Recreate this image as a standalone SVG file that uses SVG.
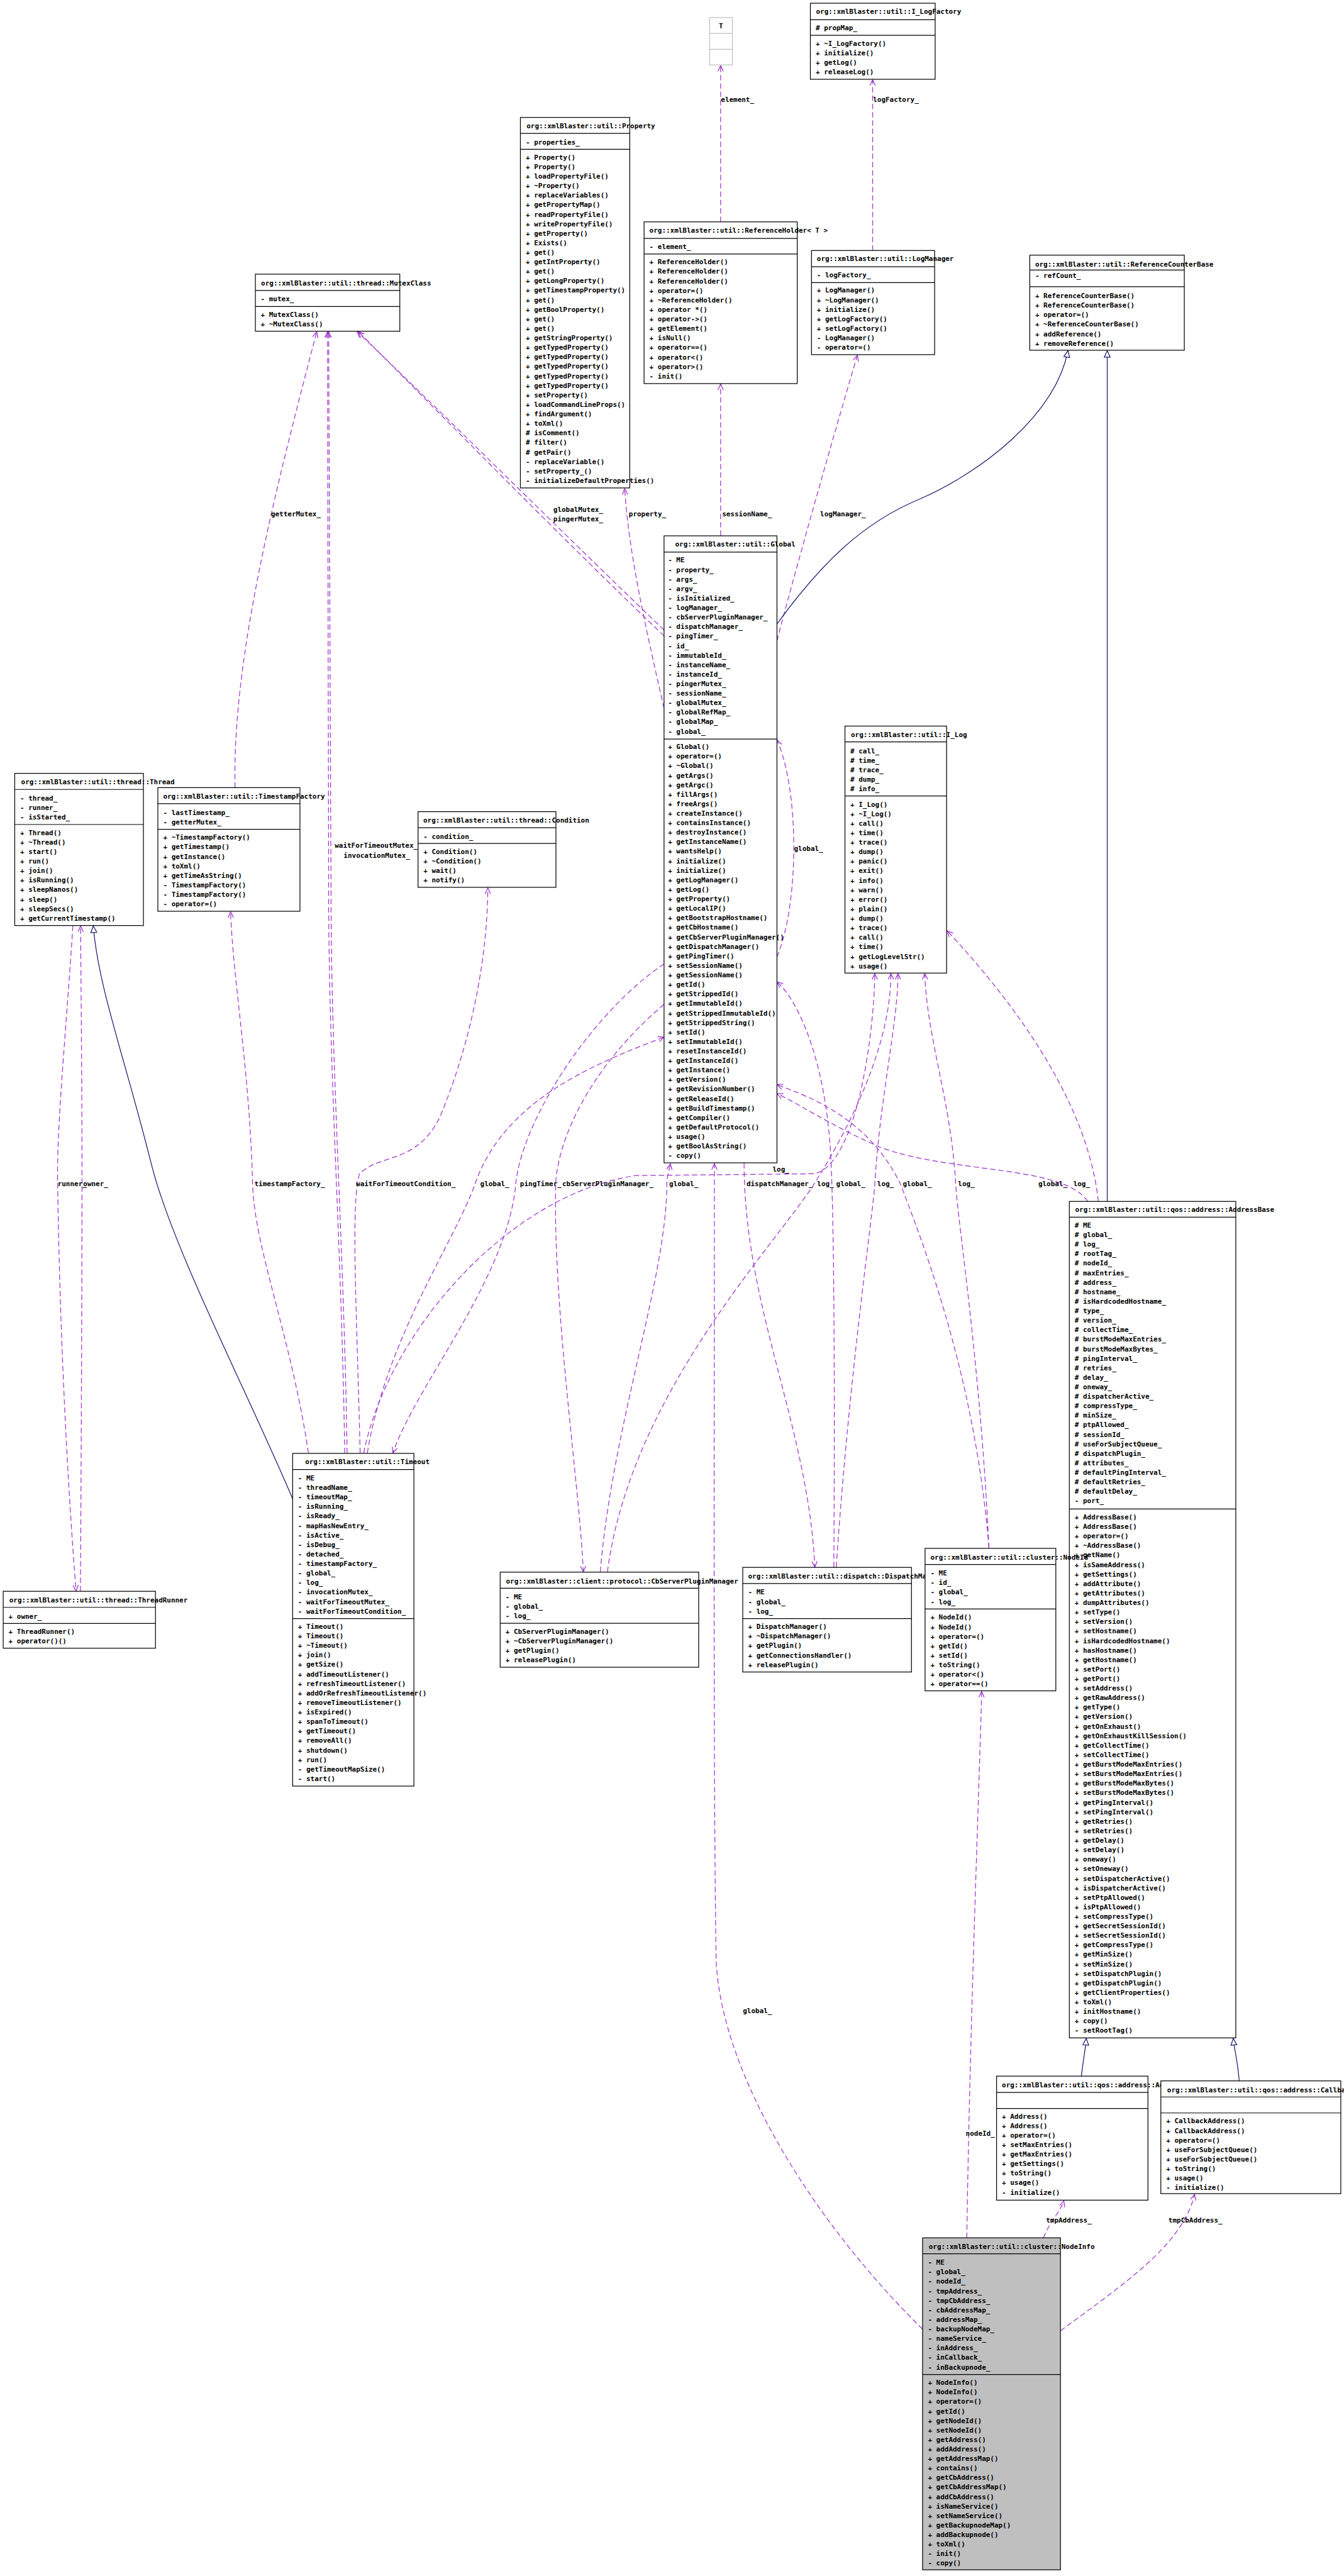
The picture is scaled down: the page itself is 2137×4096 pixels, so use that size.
<svg xmlns="http://www.w3.org/2000/svg" width="2137" height="4096" viewBox="0 0 2137 4096">
<defs>
<style>
.b{fill:#fff;stroke:#000;stroke-width:1.3}
.gr{fill:#bfbfbf;stroke:#000;stroke-width:1.3}
.s{fill:none;stroke:#000;stroke-width:1.3}
text{font-family:"DejaVu Sans Mono","Liberation Mono",monospace;font-size:11.6px;fill:#000;font-weight:bold}
.e{fill:none;stroke:#9a32cd;stroke-width:1.3;stroke-dasharray:9,5;marker-end:url(#v)}
.i{fill:none;stroke:#191970;stroke-width:1.3;marker-end:url(#t)}
.c{text-anchor:middle}
</style>
<marker id="v" viewBox="0 0 12 12" refX="11" refY="6" markerWidth="12" markerHeight="12" markerUnits="userSpaceOnUse" orient="auto"><path d="M1,1.5 L11,6 L1,10.5" fill="none" stroke="#9a32cd" stroke-width="1.3"/></marker>
<marker id="t" viewBox="0 0 13 12" refX="12" refY="6" markerWidth="13" markerHeight="12" markerUnits="userSpaceOnUse" orient="auto"><path d="M1,1 L12,6 L1,11 Z" fill="#fff" stroke="#191970" stroke-width="1.3"/></marker>
</defs>
<rect width="2137" height="4096" fill="#fff"/>
<g transform="scale(0.945)">
<g id="connectors">
<path class="e" d="M1212.5,373.3 L1212.5,110"/>
<path class="e" d="M1468.3,421.5 L1468.3,134"/>
<path class="e" d="M1212.5,901.6 L1212.5,646"/>
<path class="e" d="M1117.3,1192 C1085,1050 1058,930 1051,822"/>
<path class="e" d="M1117.3,1060 C950,900 760,710 601,558"/>
<path class="e" d="M1117.3,1070 C950,910 760,716 603,558"/>
<path class="e" d="M1307.3,1078 C1330,990 1400,740 1442.8,597.5"/>
<path class="e" d="M395.5,1325 C390,1100 470,800 533,558"/>
<path class="e" d="M580,2445 C575,2100 553,1800 553,1500 L551,558"/>
<path class="e" d="M584,2445 C579,2100 557,1800 557,1500 L553,558"/>
<path class="e" d="M519,2445 C490,2250 428,2100 425,1992 C420,1800 392,1650 388,1534"/>
<path class="e" d="M606,2445 C600,2200 590,2020 605,1975 C640,1940 700,1960 740,1880 C790,1760 820,1620 820.8,1494"/>
<path class="e" d="M618,2445 C650,2250 770,2080 800,1990 C850,1850 1000,1790 1117.3,1745"/>
<path class="e" d="M1117.3,1622 C1000,1700 880,1880 868,1990 C855,2150 700,2330 661,2445"/>
<path class="e" d="M1117.3,1690 C1010,1780 940,1900 935,1992 C930,2200 975,2500 981.5,2645"/>
<path class="e" d="M1010,2645 C1030,2400 1122,2150 1122,1992 C1122,1980 1126,1970 1128,1958"/>
<path class="e" d="M612,2445 C650,2250 850,2010 1070,1978 L1370,1975 C1440,1960 1470,1750 1472,1638"/>
<path class="e" d="M1022,2645 C1060,2350 1300,2100 1370,1992 C1440,1880 1499,1750 1499,1638"/>
<path class="e" d="M1252,1957 C1252,2200 1360,2400 1371,2637"/>
<path class="e" d="M1403,2637 C1405,2300 1403,2050 1398,1950 C1390,1780 1340,1680 1307.3,1652"/>
<path class="e" d="M1407,2637 C1430,2300 1468,2050 1472,1992 C1480,1850 1511,1720 1511,1638"/>
<path class="e" d="M1664,2605 C1640,2300 1540,2060 1515,1992 C1460,1880 1360,1845 1307.3,1825"/>
<path class="e" d="M1664,2605 C1650,2300 1612,2060 1608,1992 C1600,1850 1560,1750 1556,1638"/>
<path class="e" d="M1830,2021.5 C1790,1960 1600,1975 1480,1930 C1400,1895 1340,1855 1307.3,1840"/>
<path class="e" d="M1848,2021.5 C1830,1850 1700,1680 1593.5,1566"/>
<path class="e" d="M1307.3,1610 C1345,1520 1345,1330 1307.3,1245"/>
<path class="e" d="M122.7,1557.3 C110,1750 95,1900 97,1992 C100,2200 110,2450 128,2677"/>
<path class="e" d="M135.3,2677.5 C137,2400 138,2100 138,1992 C138,1800 136,1650 135.7,1558"/>
<path class="e" d="M1552.3,3919 C1380,3750 1215,3500 1205,3300 C1200,3000 1202,2400 1202,1958"/>
<path class="e" d="M1626.7,3765.4 C1632,3400 1648,3000 1651.7,2846"/>
<path class="e" d="M1755.7,3765.4 C1765,3740 1785,3720 1790,3703"/>
<path class="e" d="M1784.3,3922 C1880,3850 1990,3780 2010,3692"/>
<path class="i" d="M1307.3,1050 C1380,950 1450,880 1547,840 C1650,795 1775,700 1797,590"/>
<path class="i" d="M1863,2021.5 L1863,590"/>
<path class="i" d="M492.4,2522 C420,2350 290,2100 255,1960 C210,1780 165,1660 157,1558"/>
<path class="i" d="M1819.5,3493.3 C1822,3470 1826,3450 1827.8,3430"/>
<path class="i" d="M2085,3501.3 C2083,3470 2077,3450 2075,3430"/>
<text x="1213" y="171">element_</text>
<text x="1469" y="171">logFactory_</text>
<text x="456" y="869">getterMutex_</text>
<text x="931" y="861">globalMutex_</text>
<text x="931" y="877">pingerMutex_</text>
<text x="1058" y="869">property_</text>
<text x="1215" y="869">sessionName_</text>
<text x="1380" y="869">logManager_</text>
<text x="1336" y="1432">global_</text>
<text class="c" x="633" y="1427">waitForTimeoutMutex_</text>
<text class="c" x="634" y="1443">invocationMutex_</text>
<text x="97" y="1996">runner_</text>
<text x="140" y="1996">owner_</text>
<text x="428" y="1996">timestampFactory_</text>
<text x="599" y="1996">waitForTimeoutCondition_</text>
<text x="808" y="1996">global_</text>
<text x="875" y="1996">pingTimer_</text>
<text x="946" y="1996">cbServerPluginManager_</text>
<text x="1126" y="1996">global_</text>
<text x="1256" y="1996">dispatchManager_</text>
<text x="1300" y="1971">log_</text>
<text x="1375" y="1996">log_</text>
<text x="1407" y="1996">global_</text>
<text x="1476" y="1996">log_</text>
<text x="1519" y="1996">global_</text>
<text x="1612" y="1996">log_</text>
<text x="1747" y="1996">global_</text>
<text x="1806" y="1996">log_</text>
<text x="1250" y="3387">global_</text>
<text x="1625" y="3594">nodeId_</text>
<text x="1760" y="3740">tmpAddress_</text>
<text x="1966" y="3740">tmpCbAddress_</text>
</g>
<g id="n_property">
<rect class="b" x="875.6" y="197.6" width="184" height="623.4"/>
<path class="s" d="M875.6,224.4H1059.6M875.6,251.2H1059.6"/>
<text x="886" y="215.6">org::xmlBlaster::util::Property</text>
<text x="884.6" y="242.9">- properties_</text>
<text x="884.6" y="268.6"><tspan x="884.6" y="268.6">+ Property()</tspan><tspan x="884.6" dy="16">+ Property()</tspan><tspan x="884.6" dy="16">+ loadPropertyFile()</tspan><tspan x="884.6" dy="16">+ ~Property()</tspan><tspan x="884.6" dy="16">+ replaceVariables()</tspan><tspan x="884.6" dy="16">+ getPropertyMap()</tspan><tspan x="884.6" dy="16">+ readPropertyFile()</tspan><tspan x="884.6" dy="16">+ writePropertyFile()</tspan><tspan x="884.6" dy="16">+ getProperty()</tspan><tspan x="884.6" dy="16">+ Exists()</tspan><tspan x="884.6" dy="16">+ get()</tspan><tspan x="884.6" dy="16">+ getIntProperty()</tspan><tspan x="884.6" dy="16">+ get()</tspan><tspan x="884.6" dy="16">+ getLongProperty()</tspan><tspan x="884.6" dy="16">+ getTimestampProperty()</tspan><tspan x="884.6" dy="16">+ get()</tspan><tspan x="884.6" dy="16">+ getBoolProperty()</tspan><tspan x="884.6" dy="16">+ get()</tspan><tspan x="884.6" dy="16">+ get()</tspan><tspan x="884.6" dy="16">+ getStringProperty()</tspan><tspan x="884.6" dy="16">+ getTypedProperty()</tspan><tspan x="884.6" dy="16">+ getTypedProperty()</tspan><tspan x="884.6" dy="16">+ getTypedProperty()</tspan><tspan x="884.6" dy="16">+ getTypedProperty()</tspan><tspan x="884.6" dy="16">+ getTypedProperty()</tspan><tspan x="884.6" dy="16">+ setProperty()</tspan><tspan x="884.6" dy="16">+ loadCommandLineProps()</tspan><tspan x="884.6" dy="16">+ findArgument()</tspan><tspan x="884.6" dy="16">+ toXml()</tspan><tspan x="884.6" dy="16"># isComment()</tspan><tspan x="884.6" dy="16"># filter()</tspan><tspan x="884.6" dy="16"># getPair()</tspan><tspan x="884.6" dy="16">- replaceVariable()</tspan><tspan x="884.6" dy="16">- setProperty_()</tspan><tspan x="884.6" dy="16">- initializeDefaultProperties()</tspan></text>
</g>
<g id="n_T">
<rect x="1194" y="29.5" width="38.3" height="79.8" fill="#fff" stroke="#bfbfbf" stroke-width="1.3"/>
<path d="M1194,56.2H1232.3M1194,83H1232.3" stroke="#bfbfbf" stroke-width="1.3"/>
<text class="c" x="1213" y="48">T</text>
</g>
<g id="n_ilogfactory">
<rect class="b" x="1363.5" y="5.4" width="210" height="128"/>
<path class="s" d="M1363.5,33.2H1573.5M1363.5,59.5H1573.5"/>
<text x="1373" y="23.8">org::xmlBlaster::util::I_LogFactory</text>
<text x="1372.5" y="51"># propMap_</text>
<text x="1372.5" y="76.8"><tspan x="1372.5" y="76.8">+ ~I_LogFactory()</tspan><tspan x="1372.5" dy="16">+ initialize()</tspan><tspan x="1372.5" dy="16">+ getLog()</tspan><tspan x="1372.5" dy="16">+ releaseLog()</tspan></text>
</g>
<g id="n_refholder">
<rect class="b" x="1083.7" y="373.3" width="257.7" height="272.1"/>
<path class="s" d="M1083.7,401.2H1341.4M1083.7,427.4H1341.4"/>
<text x="1092.7" y="391.3">org::xmlBlaster::util::ReferenceHolder&lt; T &gt;</text>
<text x="1092.7" y="419">- element_</text>
<text x="1092.7" y="444.8"><tspan x="1092.7" y="444.8">+ ReferenceHolder()</tspan><tspan x="1092.7" dy="16">+ ReferenceHolder()</tspan><tspan x="1092.7" dy="16">+ ReferenceHolder()</tspan><tspan x="1092.7" dy="16">+ operator=()</tspan><tspan x="1092.7" dy="16">+ ~ReferenceHolder()</tspan><tspan x="1092.7" dy="16">+ operator *()</tspan><tspan x="1092.7" dy="16">+ operator-&gt;()</tspan><tspan x="1092.7" dy="16">+ getElement()</tspan><tspan x="1092.7" dy="16">+ isNull()</tspan><tspan x="1092.7" dy="16">+ operator==()</tspan><tspan x="1092.7" dy="16">+ operator&lt;()</tspan><tspan x="1092.7" dy="16">+ operator&gt;()</tspan><tspan x="1092.7" dy="16">- init()</tspan></text>
</g>
<g id="n_logmanager">
<rect class="b" x="1365.4" y="421.5" width="207.2" height="175.2"/>
<path class="s" d="M1365.4,448.8H1572.6M1365.4,475.6H1572.6"/>
<text x="1374.4" y="439.5">org::xmlBlaster::util::LogManager</text>
<text x="1374.4" y="466.8">- logFactory_</text>
<text x="1374.4" y="492.5"><tspan x="1374.4" y="492.5">+ LogManager()</tspan><tspan x="1374.4" dy="16">+ ~LogManager()</tspan><tspan x="1374.4" dy="16">+ initialize()</tspan><tspan x="1374.4" dy="16">+ getLogFactory()</tspan><tspan x="1374.4" dy="16">+ setLogFactory()</tspan><tspan x="1374.4" dy="16">- LogManager()</tspan><tspan x="1374.4" dy="16">- operator=()</tspan></text>
</g>
<g id="n_refcounterbase">
<rect class="b" x="1732.7" y="429.3" width="260" height="160"/>
<path class="s" d="M1732.7,454.3H1992.7M1732.7,482.3H1992.7"/>
<text x="1741.7" y="449">org::xmlBlaster::util::ReferenceCounterBase</text>
<text x="1741.7" y="467.3">- refCount_</text>
<text x="1741.7" y="501.7"><tspan x="1741.7" y="501.7">+ ReferenceCounterBase()</tspan><tspan x="1741.7" dy="16">+ ReferenceCounterBase()</tspan><tspan x="1741.7" dy="16">+ operator=()</tspan><tspan x="1741.7" dy="16">+ ~ReferenceCounterBase()</tspan><tspan x="1741.7" dy="16">+ addReference()</tspan><tspan x="1741.7" dy="16">+ removeReference()</tspan></text>
</g>
<g id="n_mutexclass">
<rect class="b" x="429.7" y="461.3" width="243" height="96"/>
<path class="s" d="M429.7,488.7H672.7M429.7,515.7H672.7"/>
<text x="439.3" y="480">org::xmlBlaster::util::thread::MutexClass</text>
<text x="438.7" y="507.3">- mutex_</text>
<text x="438.7" y="533"><tspan x="438.7" y="533">+ MutexClass()</tspan><tspan x="438.7" dy="16">+ ~MutexClass()</tspan></text>
</g>
<g id="n_global">
<rect class="b" x="1117.3" y="901.6" width="190" height="1055"/>
<path class="s" d="M1117.3,928.9H1307.3M1117.3,1243.5H1307.3"/>
<text x="1136" y="920">org::xmlBlaster::util::Global</text>
<text x="1124" y="946.5"><tspan x="1124" y="946.5">- ME</tspan><tspan x="1124" dy="16">- property_</tspan><tspan x="1124" dy="16">- args_</tspan><tspan x="1124" dy="16">- argv_</tspan><tspan x="1124" dy="16">- isInitialized_</tspan><tspan x="1124" dy="16">- logManager_</tspan><tspan x="1124" dy="16">- cbServerPluginManager_</tspan><tspan x="1124" dy="16">- dispatchManager_</tspan><tspan x="1124" dy="16">- pingTimer_</tspan><tspan x="1124" dy="16">- id_</tspan><tspan x="1124" dy="16">- immutableId_</tspan><tspan x="1124" dy="16">- instanceName_</tspan><tspan x="1124" dy="16">- instanceId_</tspan><tspan x="1124" dy="16">- pingerMutex_</tspan><tspan x="1124" dy="16">- sessionName_</tspan><tspan x="1124" dy="16">- globalMutex_</tspan><tspan x="1124" dy="16">- globalRefMap_</tspan><tspan x="1124" dy="16">- globalMap_</tspan><tspan x="1124" dy="16">- global_</tspan></text>
<text x="1124" y="1260.5"><tspan x="1124" y="1260.5">+ Global()</tspan><tspan x="1124" dy="16">+ operator=()</tspan><tspan x="1124" dy="16">+ ~Global()</tspan><tspan x="1124" dy="16">+ getArgs()</tspan><tspan x="1124" dy="16">+ getArgc()</tspan><tspan x="1124" dy="16">+ fillArgs()</tspan><tspan x="1124" dy="16">+ freeArgs()</tspan><tspan x="1124" dy="16">+ createInstance()</tspan><tspan x="1124" dy="16">+ containsInstance()</tspan><tspan x="1124" dy="16">+ destroyInstance()</tspan><tspan x="1124" dy="16">+ getInstanceName()</tspan><tspan x="1124" dy="16">+ wantsHelp()</tspan><tspan x="1124" dy="16">+ initialize()</tspan><tspan x="1124" dy="16">+ initialize()</tspan><tspan x="1124" dy="16">+ getLogManager()</tspan><tspan x="1124" dy="16">+ getLog()</tspan><tspan x="1124" dy="16">+ getProperty()</tspan><tspan x="1124" dy="16">+ getLocalIP()</tspan><tspan x="1124" dy="16">+ getBootstrapHostname()</tspan><tspan x="1124" dy="16">+ getCbHostname()</tspan><tspan x="1124" dy="16">+ getCbServerPluginManager()</tspan><tspan x="1124" dy="16">+ getDispatchManager()</tspan><tspan x="1124" dy="16">+ getPingTimer()</tspan><tspan x="1124" dy="16">+ setSessionName()</tspan><tspan x="1124" dy="16">+ getSessionName()</tspan><tspan x="1124" dy="16">+ getId()</tspan><tspan x="1124" dy="16">+ getStrippedId()</tspan><tspan x="1124" dy="16">+ getImmutableId()</tspan><tspan x="1124" dy="16">+ getStrippedImmutableId()</tspan><tspan x="1124" dy="16">+ getStrippedString()</tspan><tspan x="1124" dy="16">+ setId()</tspan><tspan x="1124" dy="16">+ setImmutableId()</tspan><tspan x="1124" dy="16">+ resetInstanceId()</tspan><tspan x="1124" dy="16">+ getInstanceId()</tspan><tspan x="1124" dy="16">+ getInstance()</tspan><tspan x="1124" dy="16">+ getVersion()</tspan><tspan x="1124" dy="16">+ getRevisionNumber()</tspan><tspan x="1124" dy="16">+ getReleaseId()</tspan><tspan x="1124" dy="16">+ getBuildTimestamp()</tspan><tspan x="1124" dy="16">+ getCompiler()</tspan><tspan x="1124" dy="16">+ getDefaultProtocol()</tspan><tspan x="1124" dy="16">+ usage()</tspan><tspan x="1124" dy="16">+ getBoolAsString()</tspan><tspan x="1124" dy="16">- copy()</tspan></text>
</g>
<g id="n_thread">
<rect class="b" x="24.8" y="1301.3" width="216.5" height="256"/>
<path class="s" d="M24.8,1328.3H241.3M24.8,1387.3H241.3"/>
<text x="35.5" y="1320">org::xmlBlaster::util::thread::Thread</text>
<text x="33.8" y="1347.3"><tspan x="33.8" y="1347.3">- thread_</tspan><tspan x="33.8" dy="16">- runner_</tspan><tspan x="33.8" dy="16">- isStarted_</tspan></text>
<text x="33.8" y="1405"><tspan x="33.8" y="1405">+ Thread()</tspan><tspan x="33.8" dy="16">+ ~Thread()</tspan><tspan x="33.8" dy="16">+ start()</tspan><tspan x="33.8" dy="16">+ run()</tspan><tspan x="33.8" dy="16">+ join()</tspan><tspan x="33.8" dy="16">+ isRunning()</tspan><tspan x="33.8" dy="16">+ sleepNanos()</tspan><tspan x="33.8" dy="16">+ sleep()</tspan><tspan x="33.8" dy="16">+ sleepSecs()</tspan><tspan x="33.8" dy="16">+ getCurrentTimestamp()</tspan></text>
</g>
<g id="n_timestampfactory">
<rect class="b" x="265.6" y="1325.3" width="239.1" height="208"/>
<path class="s" d="M265.6,1352.3H504.7M265.6,1395.3H504.7"/>
<text x="274.5" y="1344.3">org::xmlBlaster::util::TimestampFactory</text>
<text x="274.6" y="1371.3"><tspan x="274.6" y="1371.3">- lastTimestamp_</tspan><tspan x="274.6" dy="16">- getterMutex_</tspan></text>
<text x="274.6" y="1413"><tspan x="274.6" y="1413">+ ~TimestampFactory()</tspan><tspan x="274.6" dy="16">+ getTimestamp()</tspan><tspan x="274.6" dy="16">+ getInstance()</tspan><tspan x="274.6" dy="16">+ toXml()</tspan><tspan x="274.6" dy="16">+ getTimeAsString()</tspan><tspan x="274.6" dy="16">- TimestampFactory()</tspan><tspan x="274.6" dy="16">- TimestampFactory()</tspan><tspan x="274.6" dy="16">- operator=()</tspan></text>
</g>
<g id="n_condition">
<rect class="b" x="703.4" y="1365.7" width="232" height="127.3"/>
<path class="s" d="M703.4,1392.7H935.4M703.4,1419.3H935.4"/>
<text x="712.2" y="1384">org::xmlBlaster::util::thread::Condition</text>
<text x="712.4" y="1411.3">- condition_</text>
<text x="712.4" y="1437"><tspan x="712.4" y="1437">+ Condition()</tspan><tspan x="712.4" dy="16">+ ~Condition()</tspan><tspan x="712.4" dy="16">+ wait()</tspan><tspan x="712.4" dy="16">+ notify()</tspan></text>
</g>
<g id="n_ilog">
<rect class="b" x="1421.7" y="1221.7" width="171" height="415.6"/>
<path class="s" d="M1421.7,1248.3H1592.7M1421.7,1339.3H1592.7"/>
<text x="1431.7" y="1240">org::xmlBlaster::util::I_Log</text>
<text x="1430.7" y="1267.3"><tspan x="1430.7" y="1267.3"># call_</tspan><tspan x="1430.7" dy="16"># time_</tspan><tspan x="1430.7" dy="16"># trace_</tspan><tspan x="1430.7" dy="16"># dump_</tspan><tspan x="1430.7" dy="16"># info_</tspan></text>
<text x="1430.7" y="1357.3"><tspan x="1430.7" y="1357.3">+ I_Log()</tspan><tspan x="1430.7" dy="16">+ ~I_Log()</tspan><tspan x="1430.7" dy="16">+ call()</tspan><tspan x="1430.7" dy="16">+ time()</tspan><tspan x="1430.7" dy="16">+ trace()</tspan><tspan x="1430.7" dy="16">+ dump()</tspan><tspan x="1430.7" dy="16">+ panic()</tspan><tspan x="1430.7" dy="16">+ exit()</tspan><tspan x="1430.7" dy="16">+ info()</tspan><tspan x="1430.7" dy="16">+ warn()</tspan><tspan x="1430.7" dy="16">+ error()</tspan><tspan x="1430.7" dy="16">+ plain()</tspan><tspan x="1430.7" dy="16">+ dump()</tspan><tspan x="1430.7" dy="16">+ trace()</tspan><tspan x="1430.7" dy="16">+ call()</tspan><tspan x="1430.7" dy="16">+ time()</tspan><tspan x="1430.7" dy="16">+ getLogLevelStr()</tspan><tspan x="1430.7" dy="16">+ usage()</tspan></text>
</g>
<g id="n_addressbase">
<rect class="b" x="1799.3" y="2021.5" width="280" height="1407.5"/>
<path class="s" d="M1799.3,2048H2079.3M1799.3,2539H2079.3"/>
<text x="1809" y="2039">org::xmlBlaster::util::qos::address::AddressBase</text>
<text x="1808.3" y="2065.6"><tspan x="1808.3" y="2065.6"># ME</tspan><tspan x="1808.3" dy="16"># global_</tspan><tspan x="1808.3" dy="16"># log_</tspan><tspan x="1808.3" dy="16"># rootTag_</tspan><tspan x="1808.3" dy="16"># nodeId_</tspan><tspan x="1808.3" dy="16"># maxEntries_</tspan><tspan x="1808.3" dy="16"># address_</tspan><tspan x="1808.3" dy="16"># hostname_</tspan><tspan x="1808.3" dy="16"># isHardcodedHostname_</tspan><tspan x="1808.3" dy="16"># type_</tspan><tspan x="1808.3" dy="16"># version_</tspan><tspan x="1808.3" dy="16"># collectTime_</tspan><tspan x="1808.3" dy="16"># burstModeMaxEntries_</tspan><tspan x="1808.3" dy="16"># burstModeMaxBytes_</tspan><tspan x="1808.3" dy="16"># pingInterval_</tspan><tspan x="1808.3" dy="16"># retries_</tspan><tspan x="1808.3" dy="16"># delay_</tspan><tspan x="1808.3" dy="16"># oneway_</tspan><tspan x="1808.3" dy="16"># dispatcherActive_</tspan><tspan x="1808.3" dy="16"># compressType_</tspan><tspan x="1808.3" dy="16"># minSize_</tspan><tspan x="1808.3" dy="16"># ptpAllowed_</tspan><tspan x="1808.3" dy="16"># sessionId_</tspan><tspan x="1808.3" dy="16"># useForSubjectQueue_</tspan><tspan x="1808.3" dy="16"># dispatchPlugin_</tspan><tspan x="1808.3" dy="16"># attributes_</tspan><tspan x="1808.3" dy="16"># defaultPingInterval_</tspan><tspan x="1808.3" dy="16"># defaultRetries_</tspan><tspan x="1808.3" dy="16"># defaultDelay_</tspan><tspan x="1808.3" dy="16">- port_</tspan></text>
<text x="1808.3" y="2556.6"><tspan x="1808.3" y="2556.6">+ AddressBase()</tspan><tspan x="1808.3" dy="16">+ AddressBase()</tspan><tspan x="1808.3" dy="16">+ operator=()</tspan><tspan x="1808.3" dy="16">+ ~AddressBase()</tspan><tspan x="1808.3" dy="16">+ getName()</tspan><tspan x="1808.3" dy="16">+ isSameAddress()</tspan><tspan x="1808.3" dy="16">+ getSettings()</tspan><tspan x="1808.3" dy="16">+ addAttribute()</tspan><tspan x="1808.3" dy="16">+ getAttributes()</tspan><tspan x="1808.3" dy="16">+ dumpAttributes()</tspan><tspan x="1808.3" dy="16">+ setType()</tspan><tspan x="1808.3" dy="16">+ setVersion()</tspan><tspan x="1808.3" dy="16">+ setHostname()</tspan><tspan x="1808.3" dy="16">+ isHardcodedHostname()</tspan><tspan x="1808.3" dy="16">+ hasHostname()</tspan><tspan x="1808.3" dy="16">+ getHostname()</tspan><tspan x="1808.3" dy="16">+ setPort()</tspan><tspan x="1808.3" dy="16">+ getPort()</tspan><tspan x="1808.3" dy="16">+ setAddress()</tspan><tspan x="1808.3" dy="16">+ getRawAddress()</tspan><tspan x="1808.3" dy="16">+ getType()</tspan><tspan x="1808.3" dy="16">+ getVersion()</tspan><tspan x="1808.3" dy="16">+ getOnExhaust()</tspan><tspan x="1808.3" dy="16">+ getOnExhaustKillSession()</tspan><tspan x="1808.3" dy="16">+ getCollectTime()</tspan><tspan x="1808.3" dy="16">+ setCollectTime()</tspan><tspan x="1808.3" dy="16">+ getBurstModeMaxEntries()</tspan><tspan x="1808.3" dy="16">+ setBurstModeMaxEntries()</tspan><tspan x="1808.3" dy="16">+ getBurstModeMaxBytes()</tspan><tspan x="1808.3" dy="16">+ setBurstModeMaxBytes()</tspan><tspan x="1808.3" dy="16">+ getPingInterval()</tspan><tspan x="1808.3" dy="16">+ setPingInterval()</tspan><tspan x="1808.3" dy="16">+ getRetries()</tspan><tspan x="1808.3" dy="16">+ setRetries()</tspan><tspan x="1808.3" dy="16">+ getDelay()</tspan><tspan x="1808.3" dy="16">+ setDelay()</tspan><tspan x="1808.3" dy="16">+ oneway()</tspan><tspan x="1808.3" dy="16">+ setOneway()</tspan><tspan x="1808.3" dy="16">+ setDispatcherActive()</tspan><tspan x="1808.3" dy="16">+ isDispatcherActive()</tspan><tspan x="1808.3" dy="16">+ setPtpAllowed()</tspan><tspan x="1808.3" dy="16">+ isPtpAllowed()</tspan><tspan x="1808.3" dy="16">+ setCompressType()</tspan><tspan x="1808.3" dy="16">+ getSecretSessionId()</tspan><tspan x="1808.3" dy="16">+ setSecretSessionId()</tspan><tspan x="1808.3" dy="16">+ getCompressType()</tspan><tspan x="1808.3" dy="16">+ getMinSize()</tspan><tspan x="1808.3" dy="16">+ setMinSize()</tspan><tspan x="1808.3" dy="16">+ setDispatchPlugin()</tspan><tspan x="1808.3" dy="16">+ getDispatchPlugin()</tspan><tspan x="1808.3" dy="16">+ getClientProperties()</tspan><tspan x="1808.3" dy="16">+ toXml()</tspan><tspan x="1808.3" dy="16">+ initHostname()</tspan><tspan x="1808.3" dy="16">+ copy()</tspan><tspan x="1808.3" dy="16">- setRootTag()</tspan></text>
</g>
<g id="n_threadrunner">
<rect class="b" x="5.4" y="2677.5" width="256.2" height="95.8"/>
<path class="s" d="M5.4,2704.5H261.6M5.4,2731.5H261.6"/>
<text x="15.6" y="2696">org::xmlBlaster::util::thread::ThreadRunner</text>
<text x="14.4" y="2723.3">+ owner_</text>
<text x="14.4" y="2748.8"><tspan x="14.4" y="2748.8">+ ThreadRunner()</tspan><tspan x="14.4" dy="16">+ operator()()</tspan></text>
</g>
<g id="n_timeout">
<rect class="b" x="492.4" y="2445.5" width="204" height="559.8"/>
<path class="s" d="M492.4,2472.5H696.4M492.4,2723.4H696.4"/>
<text x="513.4" y="2464">org::xmlBlaster::util::Timeout</text>
<text x="501.4" y="2491"><tspan x="501.4" y="2491">- ME</tspan><tspan x="501.4" dy="16">- threadName_</tspan><tspan x="501.4" dy="16">- timeoutMap_</tspan><tspan x="501.4" dy="16">- isRunning_</tspan><tspan x="501.4" dy="16">- isReady_</tspan><tspan x="501.4" dy="16">- mapHasNewEntry_</tspan><tspan x="501.4" dy="16">- isActive_</tspan><tspan x="501.4" dy="16">- isDebug_</tspan><tspan x="501.4" dy="16">- detached_</tspan><tspan x="501.4" dy="16">- timestampFactory_</tspan><tspan x="501.4" dy="16">- global_</tspan><tspan x="501.4" dy="16">- log_</tspan><tspan x="501.4" dy="16">- invocationMutex_</tspan><tspan x="501.4" dy="16">- waitForTimeoutMutex_</tspan><tspan x="501.4" dy="16">- waitForTimeoutCondition_</tspan></text>
<text x="501.4" y="2740.7"><tspan x="501.4" y="2740.7">+ Timeout()</tspan><tspan x="501.4" dy="16">+ Timeout()</tspan><tspan x="501.4" dy="16">+ ~Timeout()</tspan><tspan x="501.4" dy="16">+ join()</tspan><tspan x="501.4" dy="16">+ getSize()</tspan><tspan x="501.4" dy="16">+ addTimeoutListener()</tspan><tspan x="501.4" dy="16">+ refreshTimeoutListener()</tspan><tspan x="501.4" dy="16">+ addOrRefreshTimeoutListener()</tspan><tspan x="501.4" dy="16">+ removeTimeoutListener()</tspan><tspan x="501.4" dy="16">+ isExpired()</tspan><tspan x="501.4" dy="16">+ spanToTimeout()</tspan><tspan x="501.4" dy="16">+ getTimeout()</tspan><tspan x="501.4" dy="16">+ removeAll()</tspan><tspan x="501.4" dy="16">+ shutdown()</tspan><tspan x="501.4" dy="16">+ run()</tspan><tspan x="501.4" dy="16">- getTimeoutMapSize()</tspan><tspan x="501.4" dy="16">- start()</tspan></text>
</g>
<g id="n_cbserverpluginmanager">
<rect class="b" x="841.6" y="2645.3" width="334" height="160"/>
<path class="s" d="M841.6,2672.3H1175.6M841.6,2731.3H1175.6"/>
<text x="851.3" y="2664.3">org::xmlBlaster::client::protocol::CbServerPluginManager</text>
<text x="850.6" y="2691"><tspan x="850.6" y="2691">- ME</tspan><tspan x="850.6" dy="16">- global_</tspan><tspan x="850.6" dy="16">- log_</tspan></text>
<text x="850.6" y="2749"><tspan x="850.6" y="2749">+ CbServerPluginManager()</tspan><tspan x="850.6" dy="16">+ ~CbServerPluginManager()</tspan><tspan x="850.6" dy="16">+ getPlugin()</tspan><tspan x="850.6" dy="16">+ releasePlugin()</tspan></text>
</g>
<g id="n_dispatchmanager">
<rect class="b" x="1249.7" y="2637.3" width="283.9" height="176"/>
<path class="s" d="M1249.7,2664.3H1533.6M1249.7,2723.3H1533.6"/>
<text x="1258.7" y="2656.3">org::xmlBlaster::util::dispatch::DispatchManager</text>
<text x="1258.7" y="2683"><tspan x="1258.7" y="2683">- ME</tspan><tspan x="1258.7" dy="16">- global_</tspan><tspan x="1258.7" dy="16">- log_</tspan></text>
<text x="1258.7" y="2741"><tspan x="1258.7" y="2741">+ DispatchManager()</tspan><tspan x="1258.7" dy="16">+ ~DispatchManager()</tspan><tspan x="1258.7" dy="16">+ getPlugin()</tspan><tspan x="1258.7" dy="16">+ getConnectionsHandler()</tspan><tspan x="1258.7" dy="16">+ releasePlugin()</tspan></text>
</g>
<g id="n_nodeid">
<rect class="b" x="1556.5" y="2605.3" width="220" height="239.7"/>
<path class="s" d="M1556.5,2632.3H1776.5M1556.5,2707.3H1776.5"/>
<text x="1565.6" y="2624.3">org::xmlBlaster::util::cluster::NodeId</text>
<text x="1565.5" y="2651"><tspan x="1565.5" y="2651">- ME</tspan><tspan x="1565.5" dy="16">- id_</tspan><tspan x="1565.5" dy="16">- global_</tspan><tspan x="1565.5" dy="16">- log_</tspan></text>
<text x="1565.5" y="2725.3"><tspan x="1565.5" y="2725.3">+ NodeId()</tspan><tspan x="1565.5" dy="16">+ NodeId()</tspan><tspan x="1565.5" dy="16">+ operator=()</tspan><tspan x="1565.5" dy="16">+ getId()</tspan><tspan x="1565.5" dy="16">+ setId()</tspan><tspan x="1565.5" dy="16">+ toString()</tspan><tspan x="1565.5" dy="16">+ operator&lt;()</tspan><tspan x="1565.5" dy="16">+ operator==()</tspan></text>
</g>
<g id="n_address">
<rect class="b" x="1676.8" y="3493.3" width="254.7" height="208.7"/>
<path class="s" d="M1676.8,3520.7H1931.5M1676.8,3547.7H1931.5"/>
<text x="1685.8" y="3512.7">org::xmlBlaster::util::qos::address::Address</text>
<text x="1685.8" y="3564.7"><tspan x="1685.8" y="3564.7">+ Address()</tspan><tspan x="1685.8" dy="16">+ Address()</tspan><tspan x="1685.8" dy="16">+ operator=()</tspan><tspan x="1685.8" dy="16">+ setMaxEntries()</tspan><tspan x="1685.8" dy="16">+ getMaxEntries()</tspan><tspan x="1685.8" dy="16">+ getSettings()</tspan><tspan x="1685.8" dy="16">+ toString()</tspan><tspan x="1685.8" dy="16">+ usage()</tspan><tspan x="1685.8" dy="16">- initialize()</tspan></text>
</g>
<g id="n_callbackaddress">
<rect class="b" x="1953.2" y="3501.3" width="302.8" height="189.7"/>
<path class="s" d="M1953.2,3528.3H2256M1953.2,3555.3H2256"/>
<text x="1963.8" y="3520.3">org::xmlBlaster::util::qos::address::CallbackAddress</text>
<text x="1962.2" y="3573"><tspan x="1962.2" y="3573">+ CallbackAddress()</tspan><tspan x="1962.2" dy="16">+ CallbackAddress()</tspan><tspan x="1962.2" dy="16">+ operator=()</tspan><tspan x="1962.2" dy="16">+ useForSubjectQueue()</tspan><tspan x="1962.2" dy="16">+ useForSubjectQueue()</tspan><tspan x="1962.2" dy="16">+ toString()</tspan><tspan x="1962.2" dy="16">+ usage()</tspan><tspan x="1962.2" dy="16">- initialize()</tspan></text>
</g>
<g id="n_nodeinfo">
<rect class="gr" x="1552.3" y="3765.4" width="232" height="558.6"/>
<path class="s" d="M1552.3,3792.2H1784.3M1552.3,3995.3H1784.3"/>
<text x="1562.7" y="3784">org::xmlBlaster::util::cluster::NodeInfo</text>
<text x="1561.3" y="3810.8"><tspan x="1561.3" y="3810.8">- ME</tspan><tspan x="1561.3" dy="16">- global_</tspan><tspan x="1561.3" dy="16">- nodeId_</tspan><tspan x="1561.3" dy="16">- tmpAddress_</tspan><tspan x="1561.3" dy="16">- tmpCbAddress_</tspan><tspan x="1561.3" dy="16">- cbAddressMap_</tspan><tspan x="1561.3" dy="16">- addressMap_</tspan><tspan x="1561.3" dy="16">- backupNodeMap_</tspan><tspan x="1561.3" dy="16">- nameService_</tspan><tspan x="1561.3" dy="16">- inAddress_</tspan><tspan x="1561.3" dy="16">- inCallback_</tspan><tspan x="1561.3" dy="16">- inBackupnode_</tspan></text>
<text x="1561.3" y="4012.9"><tspan x="1561.3" y="4012.9">+ NodeInfo()</tspan><tspan x="1561.3" dy="16">+ NodeInfo()</tspan><tspan x="1561.3" dy="16">+ operator=()</tspan><tspan x="1561.3" dy="16">+ getId()</tspan><tspan x="1561.3" dy="16">+ getNodeId()</tspan><tspan x="1561.3" dy="16">+ setNodeId()</tspan><tspan x="1561.3" dy="16">+ getAddress()</tspan><tspan x="1561.3" dy="16">+ addAddress()</tspan><tspan x="1561.3" dy="16">+ getAddressMap()</tspan><tspan x="1561.3" dy="16">+ contains()</tspan><tspan x="1561.3" dy="16">+ getCbAddress()</tspan><tspan x="1561.3" dy="16">+ getCbAddressMap()</tspan><tspan x="1561.3" dy="16">+ addCbAddress()</tspan><tspan x="1561.3" dy="16">+ isNameService()</tspan><tspan x="1561.3" dy="16">+ setNameService()</tspan><tspan x="1561.3" dy="16">+ getBackupnodeMap()</tspan><tspan x="1561.3" dy="16">+ addBackupnode()</tspan><tspan x="1561.3" dy="16">+ toXml()</tspan><tspan x="1561.3" dy="16">- init()</tspan><tspan x="1561.3" dy="16">- copy()</tspan></text>
</g>
</g>
</svg>
